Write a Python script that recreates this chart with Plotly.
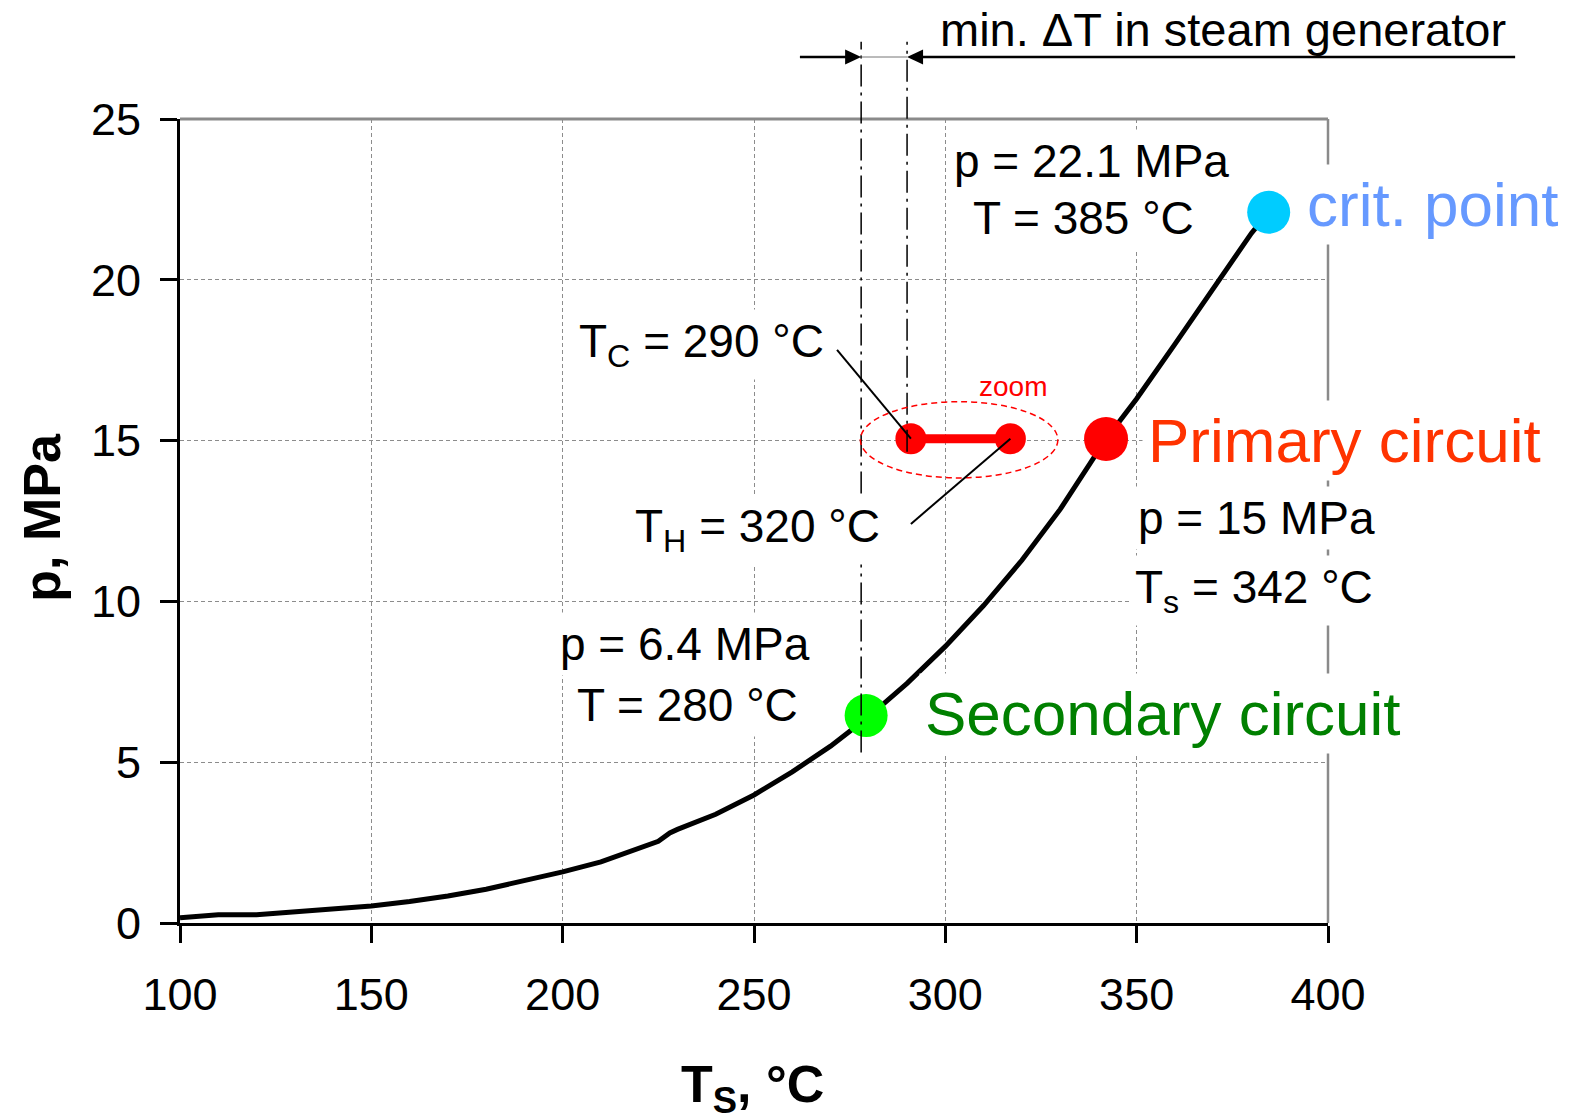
import plotly.graph_objects as go

# ---------------- data ----------------
T_SAT = [100, 110, 120, 130, 140, 150, 160, 170, 180, 190, 200, 210, 220, 225, 228,
         230, 240, 250, 260, 270, 280, 290, 300, 310, 320, 330, 342, 350, 360, 370,
         380, 384.5]
P_SAT = [0.16, 0.26, 0.26, 0.36, 0.45, 0.53, 0.67, 0.84, 1.05, 1.31, 1.59, 1.90, 2.32, 2.54, 2.80,
         2.91, 3.38, 3.98, 4.70, 5.50, 6.42, 7.45, 8.60, 9.87, 11.28, 12.86, 15.05, 16.30, 18.00, 19.70,
         21.45, 22.10]

CRIT_T, CRIT_P = [384.5], [22.1]
PRIM_T, PRIM_P = [342.0], [15.05]
SEC_T, SEC_P = [279.3], [6.45]
LOOP_T = [291.0, 317.0]          # T_C, T_H of primary loop
LOOP_P = [15.06, 15.06]
DT_T = [278.0, 290.0]            # min. delta-T guide lines

X_TICKS = [100, 150, 200, 250, 300, 350, 400]
Y_TICKS = [0, 5, 10, 15, 20, 25]
X_RANGE = [100, 400]
Y_RANGE = [0, 25]

FONT = "Arial, 'Liberation Sans', sans-serif"


def xp(t):
    return (t - X_RANGE[0]) / (X_RANGE[1] - X_RANGE[0])


def yp(p):
    return (p - Y_RANGE[0]) / (Y_RANGE[1] - Y_RANGE[0])


fig = go.Figure()

# saturation curve
fig.add_trace(go.Scatter(x=T_SAT, y=P_SAT, mode="lines",
                         line=dict(color="black", width=5), hoverinfo="skip"))
# primary loop (T_C -> T_H)
fig.add_trace(go.Scatter(x=LOOP_T, y=LOOP_P, mode="lines+markers",
                         line=dict(color="#FF0000", width=9),
                         marker=dict(color="#FF0000", size=31)))
# points
fig.add_trace(go.Scatter(x=CRIT_T, y=CRIT_P, mode="markers",
                         marker=dict(color="#00CCFF", size=43)))
fig.add_trace(go.Scatter(x=PRIM_T, y=PRIM_P, mode="markers",
                         marker=dict(color="#FF0000", size=44)))
fig.add_trace(go.Scatter(x=SEC_T, y=SEC_P, mode="markers",
                         marker=dict(color="#00FF00", size=43)))

shapes = []
# top & right frame (grey)
shapes.append(dict(type="line", xref="paper", yref="paper", x0=0, x1=1, y0=1, y1=1,
                   line=dict(color="#8a8a8a", width=3), layer="above"))
shapes.append(dict(type="line", xref="paper", yref="paper", x0=1, x1=1, y0=0, y1=1,
                   line=dict(color="#8a8a8a", width=2.5), layer="above"))

DASHDOT = "22px,6px,3px,6px"
TOP_Y = 1.096
ARROW_Y = 1.0771
# dash-dot guide lines
shapes.append(dict(type="line", xref="x", yref="paper", x0=DT_T[0], x1=DT_T[0],
                   y0=yp(5.3), y1=TOP_Y, line=dict(color="black", width=1.5, dash=DASHDOT)))
shapes.append(dict(type="line", xref="x", yref="paper", x0=DT_T[1], x1=DT_T[1],
                   y0=yp(14.65), y1=TOP_Y, line=dict(color="black", width=1.5, dash=DASHDOT)))
# arrow lines
shapes.append(dict(type="line", xref="x", yref="paper", x0=262, x1=DT_T[0] - 2,
                   y0=ARROW_Y, y1=ARROW_Y, line=dict(color="black", width=2.5)))
shapes.append(dict(type="line", xref="paper", yref="paper", x0=xp(DT_T[1]) + 0.005, x1=1.163,
                   y0=ARROW_Y, y1=ARROW_Y, line=dict(color="black", width=2.5)))
shapes.append(dict(type="line", xref="x", yref="paper", x0=DT_T[0], x1=DT_T[1],
                   y0=ARROW_Y, y1=ARROW_Y, line=dict(color="#777777", width=1)))
shapes.append(dict(type="path", xref="x", yref="paper", xsizemode="pixel", ysizemode="pixel",
                   xanchor=DT_T[0], yanchor=ARROW_Y, path="M0,0 L-16,7.5 L-16,-7.5 Z",
                   fillcolor="black", line=dict(width=0)))
shapes.append(dict(type="path", xref="x", yref="paper", xsizemode="pixel", ysizemode="pixel",
                   xanchor=DT_T[1], yanchor=ARROW_Y, path="M0,0 L16,7.5 L16,-7.5 Z",
                   fillcolor="black", line=dict(width=0)))
# dashed "zoom" ellipse
shapes.append(dict(type="circle", xref="x", yref="y", x0=277.8, x1=329.4, y0=13.84, y1=16.21,
                   line=dict(color="#FF0000", width=1.5, dash="6px,4px")))
# leader lines
shapes.append(dict(type="line", xref="x", yref="y", x0=271.7, y0=17.82, x1=LOOP_T[0], y1=LOOP_P[0],
                   line=dict(color="black", width=2)))
shapes.append(dict(type="line", xref="x", yref="y", x0=291.0, y0=12.41, x1=LOOP_T[1], y1=LOOP_P[1],
                   line=dict(color="black", width=2)))

LBL = 46
BIG = 62
ann = []


def label(text, x, y, size=LBL, color="black", xanchor="center", bg="white"):
    a = dict(text=text, x=x, y=y, xref="x", yref="y", showarrow=False,
             xanchor=xanchor, yanchor="middle",
             font=dict(family=FONT, size=size, color=color), borderpad=5)
    if bg:
        a["bgcolor"] = bg
    ann.append(a)


label("p = 22.1 MPa", 338.1, 23.69)
label("T = 385 °C", 336.2, 21.91)
label("crit. point", 392.9, 22.35, size=BIG, color="#6699FF", xanchor="left")
label("Primary circuit", 351.4, 14.99, size=BIG, color="#FF3300", xanchor="left")
label("p = 15 MPa", 381.2, 12.58)
label("T<sub>s</sub> = 342 °C", 380.7, 10.35)
label("Secondary circuit", 293.2, 6.53, size=BIG, color="#008000", xanchor="left")
label("p = 6.4 MPa", 232.0, 8.68)
label("T = 280 °C", 232.5, 6.78)
label("T<sub>C</sub> = 290 °C", 236.4, 17.98)
label("T<sub>H</sub> = 320 °C", 251.0, 12.23)
label("zoom", 317.7, 16.67, size=28, color="#FF0000", bg=None)

ann.append(dict(text="min. ΔT in steam generator", x=0.9085, y=1.111, xref="paper", yref="paper",
                showarrow=False, xanchor="center", yanchor="middle",
                font=dict(family=FONT, size=47, color="black")))
# axis titles
ann.append(dict(text="<b>p, MPa</b>", x=-0.1205, y=0.505, xref="paper", yref="paper",
                showarrow=False, textangle=-90, xanchor="center", yanchor="middle",
                font=dict(family=FONT, size=52, color="black")))
ann.append(dict(text="<b>T<sub>S</sub>, °C</b>", x=0.4991, y=-0.205, xref="paper", yref="paper",
                showarrow=False, xanchor="center", yanchor="middle",
                font=dict(family=FONT, size=52, color="black")))

axis_common = dict(showline=True, linecolor="black", linewidth=3, ticks="outside",
                   ticklen=17, tickwidth=2.5, tickcolor="black", showgrid=True,
                   gridcolor="#8c8c8c", griddash="4px,3px", gridwidth=1, zeroline=False,
                   tickfont=dict(family=FONT, size=45, color="black"))

# the page body adds an 8px offset, so the figure is 8px smaller than the window
fig.update_layout(
    width=1571, height=1109,
    margin=dict(l=172, r=251, t=111, b=194, autoexpand=False),
    paper_bgcolor="white", plot_bgcolor="white",
    showlegend=False,
    xaxis=dict(range=X_RANGE, tickvals=X_TICKS, ticklabelstandoff=13, **axis_common),
    yaxis=dict(range=Y_RANGE, tickvals=Y_TICKS, ticklabelstandoff=10, **axis_common),
    shapes=shapes,
    annotations=ann,
    font=dict(family=FONT),
)

fig.write_html("out.html")
